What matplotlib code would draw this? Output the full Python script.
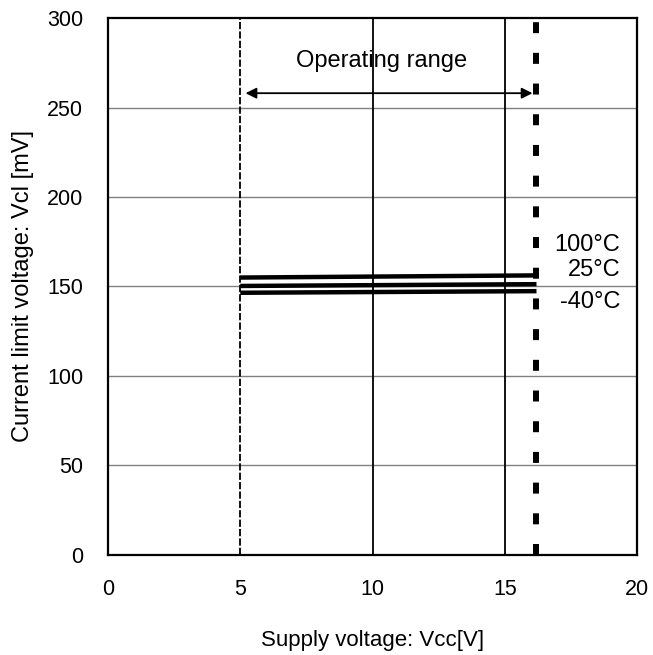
import matplotlib
matplotlib.use("Agg")
import matplotlib.pyplot as plt

plt.rcParams['font.family'] = ['Liberation Sans', 'DejaVu Sans']

# ------- data ------- #
vcc = [5, 16.2]
vcl_100 = [155.0, 156.2]
vcl_25 = [150.3, 151.3]
vcl_m40 = [146.5, 147.4]
temp_labels = ["100°C", "25°C", "-40°C"]
temp_label_y = [173, 159, 141.5]

range_lo, range_hi = 5, 16.2
x_ticks = [0, 5, 10, 15, 20]
y_ticks = [0, 50, 100, 150, 200, 250, 300]

fig = plt.figure(figsize=(6.53, 6.55), dpi=100)
ax = fig.add_axes([0.1654, 0.1527, 0.8101, 0.8198])
ax.set_xlim(0, 20)
ax.set_ylim(0, 300)
ax.set_xticks(x_ticks)
ax.set_yticks(y_ticks)
ax.tick_params(length=0, labelsize=15.5)
ax.tick_params(axis='x', pad=17)
ax.tick_params(axis='y', pad=18)
for s in ax.spines.values():
    s.set_linewidth(1.6)
    s.set_zorder(5)

# ------- grid ------- #
for y in y_ticks[1:-1]:
    ax.axhline(y, color="#808080", linewidth=1.0, zorder=1)
ax.axvline(10, color="black", linewidth=1.3, zorder=2)
ax.axvline(15, color="black", linewidth=1.3, zorder=2)
ax.axvline(range_lo, color="black", linewidth=1.3, linestyle=(0, (4, 1.2)), zorder=2)
ax.axvline(range_hi, color="black", linewidth=4.3, linestyle=(0, (1.84, 3.3)),
           dash_capstyle="butt", zorder=3)

# ------- curves ------- #
for v in (vcl_100, vcl_25, vcl_m40):
    ax.plot(vcc, v, color="black", linewidth=3.2, solid_capstyle="butt", zorder=4)
for lab, y in zip(temp_labels, temp_label_y):
    ax.text(19.36, y, lab, ha="right", va="center", fontsize=17)

# ------- operating range ------- #
ax.annotate("", xy=(range_lo + 0.2, 258), xytext=(range_hi - 0.15, 258),
            arrowprops=dict(arrowstyle="<|-|>", color="black", lw=1.3,
                            mutation_scale=16, shrinkA=0, shrinkB=0))
ax.text(10.36, 276, "Operating range", ha="center", va="center", fontsize=17)

ax.set_xlabel("Supply voltage: Vcc[V]", fontsize=16, labelpad=22)
ax.set_ylabel("Current limit voltage: Vcl [mV]", fontsize=17, labelpad=9.5)

fig.savefig("out.png", dpi=100)
